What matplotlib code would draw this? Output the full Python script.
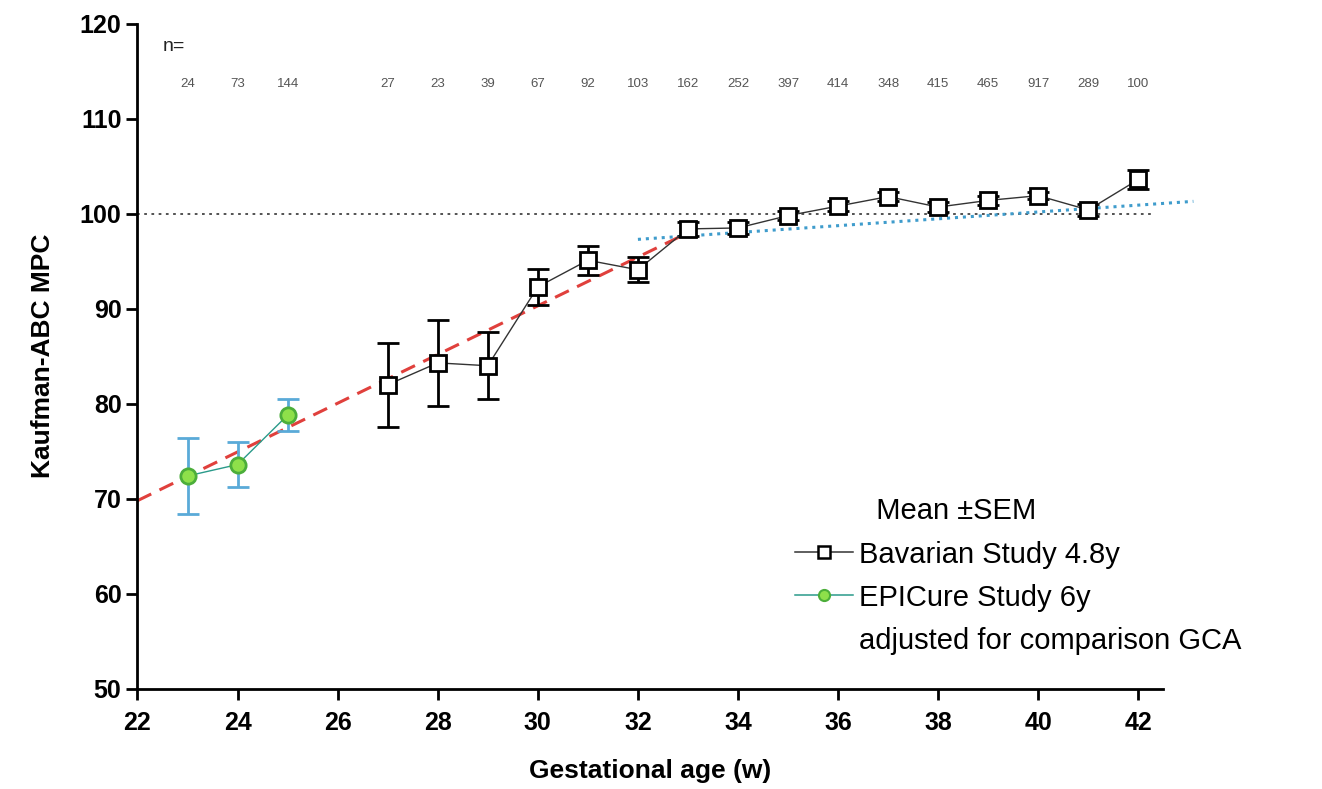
import numpy as np
import matplotlib
matplotlib.use('Agg')
import matplotlib.pyplot as plt

plt.rcParams['font.family'] = ['Liberation Sans', 'DejaVu Sans']

# Bavarian Study 4.8y
bav_ga = [27, 28, 29, 30, 31, 32, 33, 34, 35, 36, 37, 38, 39, 40, 41, 42]
bav_mean = [82.0, 84.3, 84.0, 92.3, 95.1, 94.1, 98.4, 98.5, 99.8, 100.8, 101.8, 100.7, 101.4, 101.9, 100.4, 103.6]
bav_sem = [4.4, 4.5, 3.5, 1.9, 1.5, 1.3, 0.7, 0.6, 0.5, 0.5, 0.5, 0.5, 0.5, 0.4, 0.6, 1.0]

# EPICure Study 6y
epi_ga = [23, 24, 25]
epi_mean = [72.4, 73.6, 78.8]
epi_sem = [4.0, 2.4, 1.7]

# n per gestational week
n_ga = [23, 24, 25, 27, 28, 29, 30, 31, 32, 33, 34, 35, 36, 37, 38, 39, 40, 41, 42]
n_vals = [24, 73, 144, 27, 23, 39, 67, 92, 103, 162, 252, 397, 414, 348, 415, 465, 917, 289, 100]

# trend lines (start, end)
red_x = [22, 33]
red_y = [69.8, 98.0]
blue_x = [32, 43.1]
blue_y = [97.3, 101.3]

fig, ax = plt.subplots(figsize=(13.22, 7.89), dpi=100)
fig.subplots_adjust(left=0.104, right=0.88, top=0.97, bottom=0.127)

ax.plot([22, 42.3], [100, 100], color='#444444', lw=1.3, ls=(0, (1.5, 2.5)), zorder=1)
ax.plot(red_x, red_y, color='#e0403c', lw=2.2, ls=(0, (5, 3)), zorder=2)
ax.plot(blue_x, blue_y, color='#3f9ccc', lw=2.2, ls=(0, (1, 1.6)), zorder=2, clip_on=False)

ax.errorbar(bav_ga, bav_mean, yerr=bav_sem, fmt='-', color='#333333', lw=1.0,
            ecolor='black', elinewidth=2, capsize=8, capthick=2, zorder=3)
ax.plot(bav_ga, bav_mean, 's', ms=12, mfc='white', mec='black', mew=2, zorder=4)

ax.errorbar(epi_ga, epi_mean, yerr=epi_sem, fmt='-', color='#2a9a8a', lw=1.0,
            ecolor='#5aaad8', elinewidth=2, capsize=8, capthick=2, zorder=3)
ax.plot(epi_ga, epi_mean, 'o', ms=11, mfc='#8ee04a', mec='#4cae3a', mew=2, zorder=4)

ax.text(22.5, 117.6, 'n=', fontsize=14, color='#222222', ha='left', va='center')
for g, n in zip(n_ga, n_vals):
    ax.text(g, 113.6, str(n), fontsize=9.5, color='#555555', ha='center', va='center')

ax.set_xlim(22, 42.5)
ax.set_ylim(50, 120)
ax.set_xticks(np.arange(22, 43, 2))
ax.set_yticks(np.arange(50, 121, 10))
for s in ['top', 'right']:
    ax.spines[s].set_visible(False)
for s in ['left', 'bottom']:
    ax.spines[s].set_linewidth(2)
ax.tick_params(width=2, length=8, labelsize=18)
ax.tick_params(axis='x', pad=8)
for lab in ax.get_xticklabels() + ax.get_yticklabels():
    lab.set_fontweight('bold')
ax.set_xlabel('Gestational age (w)', fontsize=19, fontweight='bold', labelpad=17)
ax.set_ylabel('Kaufman-ABC MPC', fontsize=19, fontweight='bold', labelpad=18)

h1, = ax.plot([], [], '-s', color='#333333', lw=1.1, ms=9, mfc='white', mec='black', mew=1.8)
h2, = ax.plot([], [], '-o', color='#2a9a8a', lw=1.1, ms=8, mfc='#8ee04a', mec='#4cae3a', mew=1.5)
h3, = ax.plot([], [], lw=0)
leg = ax.legend([h1, h2, h3], ['Bavarian Study 4.8y', 'EPICure Study 6y', 'adjusted for comparison GCA'],
                title=' ' * 10 + 'Mean \u00b1SEM', loc='upper left', bbox_to_anchor=(0.641, 0.288),
                frameon=False, fontsize=21, title_fontsize=21, handlelength=2.0,
                handletextpad=0.2, labelspacing=0.52, borderpad=0, borderaxespad=0)
leg._legend_box.align = 'left'
leg._legend_box.sep = 11

fig.savefig('out.png', dpi=100)
